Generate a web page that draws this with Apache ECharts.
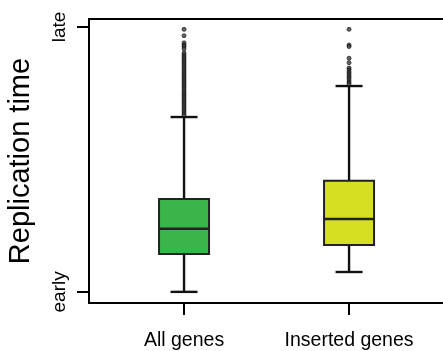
<!DOCTYPE html>
<html>
<head>
<meta charset="utf-8">
<script src="https://cdn.jsdelivr.net/npm/echarts@6/dist/echarts.min.js"></script>
<style>
  html, body { margin: 0; padding: 0; background: #fff; }
  #main { width: 443px; height: 351px; }
</style>
</head>
<body>
<div id="main"></div>
<script>
// categories and their positions on the x value axis
var categories = ['All genes', 'Inserted genes'];
var categoryPos = [1, 2];
// [min whisker, Q1, median, Q3, max whisker], 0 = early, 1 = late
var boxAll = [0.0, 0.143, 0.238, 0.351, 0.660];
var boxInserted = [0.075, 0.177, 0.275, 0.419, 0.777];
// outliers
var outliersAll = [0.991, 0.967, 0.940, 0.932, 0.926, 0.917, 0.902, 0.894, 0.887, 0.879,
    0.872, 0.864, 0.857, 0.849, 0.842, 0.834, 0.826, 0.819, 0.811, 0.804, 0.796, 0.789,
    0.781, 0.774, 0.766, 0.758, 0.751, 0.743, 0.736, 0.728, 0.721, 0.713, 0.706, 0.698,
    0.691, 0.683, 0.675, 0.668];
var outliersInserted = [0.991, 0.932, 0.926, 0.882, 0.865, 0.845, 0.838, 0.830, 0.823,
    0.815, 0.808, 0.800, 0.792, 0.785];
var yTickValues = [0, 1];
var yTickLabels = ['early', 'late'];
var boxColors = ['#3bb54a', '#d7df23'];

var boxRows = [
    [categoryPos[0]].concat(boxAll),
    [categoryPos[1]].concat(boxInserted)
];
var outlierPoints = [];
outliersAll.forEach(function (v) { outlierPoints.push([categoryPos[0], v]); });
outliersInserted.forEach(function (v) { outlierPoints.push([categoryPos[1], v]); });

var myChart = echarts.init(document.getElementById('main'));

function renderBox(params, api) {
    var x = api.value(0);
    var pMin = api.coord([x, api.value(1)]);
    var pQ1 = api.coord([x, api.value(2)]);
    var pMed = api.coord([x, api.value(3)]);
    var pQ3 = api.coord([x, api.value(4)]);
    var pMax = api.coord([x, api.value(5)]);
    var cx = pMin[0];
    var hw = 25;   // half box width
    var cw = 13.5; // half whisker cap width
    var line = { stroke: '#111', lineWidth: 2.4 };
    return {
        type: 'group',
        children: [
            { type: 'line', shape: { x1: cx, y1: pMin[1], x2: cx, y2: pQ1[1] }, style: line },
            { type: 'line', shape: { x1: cx, y1: pQ3[1], x2: cx, y2: pMax[1] }, style: line },
            { type: 'line', shape: { x1: cx - cw, y1: pMin[1], x2: cx + cw, y2: pMin[1] }, style: line },
            { type: 'line', shape: { x1: cx - cw, y1: pMax[1], x2: cx + cw, y2: pMax[1] }, style: line },
            {
                type: 'rect',
                shape: { x: cx - hw, y: pQ3[1], width: hw * 2, height: pQ1[1] - pQ3[1] },
                style: { fill: boxColors[params.dataIndex], stroke: '#222', lineWidth: 2 }
            },
            { type: 'line', shape: { x1: cx - hw, y1: pMed[1], x2: cx + hw, y2: pMed[1] }, style: { stroke: '#222', lineWidth: 2.4 } }
        ]
    };
}

var option = {
    backgroundColor: '#fff',
    animation: false,
    textStyle: { fontFamily: 'Liberation Sans, Arial, sans-serif' },
    grid: {
        show: true,
        left: 89,
        top: 19,
        width: 364,
        bottom: 48,
        outerBoundsMode: 'none',
        containLabel: false,
        borderColor: '#000',
        borderWidth: 2
    },
    xAxis: {
        type: 'value',
        min: 0.424,
        max: 2.63,
        splitLine: { show: false },
        axisLine: { show: true, onZero: false, lineStyle: { color: '#000', width: 2 } },
        axisTick: {
            show: true,
            customValues: categoryPos,
            length: 12,
            lineStyle: { color: '#000', width: 2 }
        },
        axisLabel: {
            customValues: categoryPos,
            formatter: function (v) { return categories[categoryPos.indexOf(v)]; },
            fontSize: 19.5,
            color: '#000',
            margin: 28
        }
    },
    yAxis: {
        type: 'value',
        min: -0.042,
        max: 1.03,
        name: 'Replication time',
        nameLocation: 'middle',
        nameRotate: 90,
        nameGap: 54,
        nameTextStyle: { fontSize: 29, color: '#000' },
        splitLine: { show: false },
        axisLine: { show: true, onZero: false, lineStyle: { color: '#000', width: 2 } },
        axisTick: {
            show: true,
            customValues: yTickValues,
            length: 12,
            lineStyle: { color: '#000', width: 2 }
        },
        axisLabel: {
            customValues: yTickValues,
            formatter: function (v) { return yTickLabels[yTickValues.indexOf(v)]; },
            rotate: 90,
            fontSize: 19,
            color: '#000',
            margin: 20
        }
    },
    series: [
        {
            type: 'custom',
            renderItem: renderBox,
            encode: { x: 0, y: [1, 2, 3, 4, 5] },
            data: boxRows,
            z: 2
        },
        {
            type: 'scatter',
            data: outlierPoints,
            symbol: 'circle',
            symbolSize: 4,
            itemStyle: { color: '#444', borderColor: '#000', borderWidth: 0.8 },
            z: 3
        }
    ]
};

myChart.setOption(option);
</script>
</body>
</html>
